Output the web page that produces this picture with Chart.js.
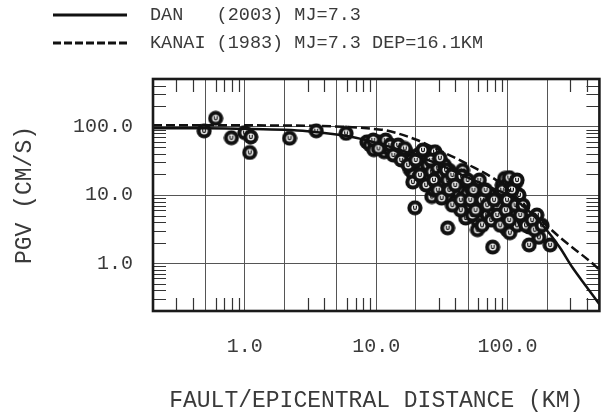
<!DOCTYPE html>
<html>
<head>
<meta charset="utf-8">
<script src="https://cdn.jsdelivr.net/npm/chart.js@4/dist/chart.umd.min.js"></script>
<style>
  body { margin: 0; background: #fff; }
  #wrap { position: relative; width: 608px; height: 415px; }
  #legend { position: absolute; left: 53px; top: 1px; font-family: 'Liberation Mono', monospace; font-size: 18.5px; color: #3a3a3a; }
  #legend .row { display: flex; align-items: center; height: 28px; white-space: pre; }
  #legend svg { margin-right: 23px; }
</style>
</head>
<body>
<div id="wrap">
  <canvas id="chart" width="608" height="415"></canvas>
  <div id="legend"></div>
</div>
<script>
// attenuation curves
const danDist = [0.2, 0.5, 1, 2, 3, 5, 7, 10, 15, 20, 30, 50, 70, 100, 150, 190, 250, 310, 400, 500]
const danPgv  = [95, 95, 93, 90, 86, 77, 69, 58, 46, 38, 28, 18, 13.5, 10, 5.5, 3.4, 1.7, 0.88, 0.45, 0.25]
const kanaiDist = [0.2, 0.5, 1, 2, 3.65, 5.5, 7.3, 10, 11.7, 20, 27, 50, 88, 148, 250, 476, 500]
const kanaiPgv  = [105, 105, 105, 104, 103, 100, 97, 92, 89, 65, 50, 28, 15, 6.0, 2.4, 0.88, 0.8]

// observed PGV records
const obsDist = [0.49, 0.60, 0.79, 1.0, 1.11, 1.09, 2.19, 3.5, 5.9,
  8.5, 9.0, 9.6, 10.4, 11.0, 11.5, 12.3, 12.8, 13.7, 14.3, 15.2, 16.0, 17.0, 17.5, 18.5, 19.0, 18.2, 19.3, 19.0, 19.7,
  20.8, 22, 23, 24, 24.7, 26.5, 28, 28, 28.5, 29.4, 26.5, 27.5, 31, 32, 33, 35, 36, 38, 39.5, 41, 42, 44, 45.4, 46,
  48, 48, 49.6, 52, 53, 55, 57, 59, 61, 63, 66, 68, 70, 73, 75, 78, 81, 83.5, 87, 91, 95, 99, 103, 106, 111, 115,
  118, 122, 104, 115, 126, 91, 99, 104, 118, 133, 146, 167, 173, 146, 211, 77, 59, 59, 48, 35, 64, 54, 44, 38,
  9.5, 10.4, 11.8, 12.8, 13.5, 14.7, 15.5, 16.5, 17.5, 20, 21.5, 22.7, 24, 26, 27.5, 29.4, 30.5, 31.5, 34, 36,
  38, 40, 44, 45, 49.6, 52, 55, 57, 61, 64, 68, 70, 75, 79, 83.5, 88, 91, 97, 99, 103, 108, 115, 118, 125, 131,
  138, 154, 161, 183]
const obsPgv = [87, 133, 69, 82, 71, 42, 68, 87, 80,
  60, 54, 46, 60, 51, 43, 54, 46, 50, 41, 46, 38.5, 42, 35, 32.6, 27.5, 23.3, 19.7, 15.5, 6.5,
  38.5, 30, 25, 35, 27.5, 22, 43, 32.6, 17.5, 25, 9.5, 11.9, 14, 19.7, 27.5, 16.6, 23, 13, 19, 8.5, 11, 15.5, 23, 12.5,
  15.5, 9.0, 10.5, 7.1, 12.5, 9.0, 14, 10, 7.1, 11, 6, 8.5, 5.1, 7.1, 10, 6, 4.3, 7.1, 10, 14, 17.5, 14, 18, 12, 8.5, 15,
  10, 10, 6.4, 5.1, 6, 4, 3.1, 2.8, 3.6, 4.3, 3.4, 5.1, 2.4, 1.86, 1.86, 1.73, 3.1, 4.3, 4.6, 3.3, 3.6, 5.1, 6, 7.1,
  64, 48, 64, 54, 38.5, 54, 32.6, 48, 27.5, 32.6, 19.7, 45.6, 14, 32.6, 16.6, 11.9, 35, 9, 23.3, 11.9,
  19.7, 14, 8.5, 19, 16.6, 8.5, 11.9, 6, 16.6, 8.5, 11.9, 7.1, 4.3, 8.5, 5.1, 3.6, 11.9, 6, 8.5, 4.3, 11.9, 7.1, 16.6, 5.1, 7.1,
  3.6, 4.3, 3.1, 3.6]

const seriesLabels = ['DAN   (2003) MJ=7.3', 'KANAI (1983) MJ=7.3 DEP=16.1KM']

// axes
const xGrid = [0.5, 1, 2, 5, 10, 20, 50, 100, 200]
const yGrid = [1, 10, 100]
const xLabelled = [1, 10, 100]
const yLabelled = [1, 10, 100]
const xMinor = [0.3, 0.4, 0.6, 0.7, 0.8, 0.9, 3, 4, 6, 7, 8, 9, 30, 40, 60, 70, 80, 90, 300, 400]
const yMinor = [0.3, 0.4, 0.5, 0.6, 0.7, 0.8, 0.9, 2, 3, 4, 5, 6, 7, 8, 9, 20, 30, 40, 50, 60, 70, 80, 90, 200, 300, 400]

const toXY = (xs, ys) => xs.map((v, i) => ({ x: v, y: ys[i] }))

// ring marker with a small "u" inside
function makeMarker() {
  const c = document.createElement('canvas')
  c.width = 16; c.height = 16
  const g = c.getContext('2d')
  g.fillStyle = '#111'
  g.beginPath(); g.arc(8, 8, 7.6, 0, Math.PI * 2); g.fill()
  g.fillStyle = '#fff'
  g.beginPath(); g.arc(8, 8, 3.5, 0, Math.PI * 2); g.fill()
  g.strokeStyle = '#111'; g.lineWidth = 1.2
  g.beginPath()
  g.moveTo(6.6, 5.8); g.lineTo(6.6, 8.3)
  g.arc(8, 8.3, 1.4, Math.PI, 0, true)
  g.lineTo(9.4, 5.8)
  g.stroke()
  return c
}

const frameTicks = {
  id: 'frameTicks',
  beforeDatasetsDraw(chart) {
    const { ctx, chartArea: a, scales: { x, y } } = chart
    ctx.save()
    ctx.strokeStyle = '#333'
    ctx.lineWidth = 1.2
    ctx.beginPath()
    xMinor.forEach(v => {
      const px = Math.round(x.getPixelForValue(v)) + 0.5
      ctx.moveTo(px, a.top); ctx.lineTo(px, a.top + 13)
      ctx.moveTo(px, a.bottom); ctx.lineTo(px, a.bottom - 13)
    })
    yMinor.forEach(v => {
      const py = Math.round(y.getPixelForValue(v)) + 0.5
      ctx.moveTo(a.left, py); ctx.lineTo(a.left + 13, py)
      ctx.moveTo(a.right, py); ctx.lineTo(a.right - 13, py)
    })
    ctx.stroke()
    ctx.restore()
  },
  afterDraw(chart) {
    const { ctx, chartArea: a } = chart
    ctx.save()
    ctx.strokeStyle = '#1a1a1a'
    ctx.lineWidth = 2.6
    ctx.strokeRect(a.left, a.top, a.right - a.left, a.bottom - a.top)
    ctx.restore()
  }
}

Chart.defaults.font.family = "'Liberation Mono', monospace"
Chart.defaults.color = '#3a3a3a'

const lineStyles = [
  { borderDash: [] },
  { borderDash: [9, 4] }
]

new Chart(document.getElementById('chart'), {
  type: 'scatter',
  data: {
    datasets: [
      { label: seriesLabels[0], data: toXY(danDist, danPgv), showLine: true, pointRadius: 0,
        borderColor: '#111', borderWidth: 2.5, cubicInterpolationMode: 'monotone', borderDash: lineStyles[0].borderDash },
      { label: seriesLabels[1], data: toXY(kanaiDist, kanaiPgv), showLine: true, pointRadius: 0,
        borderColor: '#111', borderWidth: 2.5, cubicInterpolationMode: 'monotone', borderDash: lineStyles[1].borderDash },
      { label: 'PGV', data: toXY(obsDist, obsPgv), pointStyle: makeMarker(), pointRadius: 7.6 }
    ]
  },
  options: {
    responsive: false,
    animation: false,
    events: [],
    devicePixelRatio: 1,
    layout: { padding: { top: 79, right: 5, left: 0, bottom: 0 } },
    plugins: { legend: { display: false }, tooltip: { enabled: false } },
    scales: {
      x: {
        type: 'logarithmic', min: 0.2, max: 500,
        afterBuildTicks: s => { s.ticks = xGrid.map(v => ({ value: v })) },
        afterFit: s => { s.height = 104 },
        grid: { color: '#555', lineWidth: 1, drawTicks: false },
        border: { display: false },
        ticks: {
          autoSkip: false, maxRotation: 0, padding: 24,
          font: { size: 20 },
          callback: v => xLabelled.includes(v) ? v.toFixed(1) : ''
        },
        title: { display: true, text: 'FAULT/EPICENTRAL DISTANCE (KM)', font: { size: 23 }, padding: { top: 9, bottom: 0 } }
      },
      y: {
        type: 'logarithmic', min: 0.2, max: 500,
        afterBuildTicks: s => { s.ticks = yGrid.map(v => ({ value: v })) },
        afterFit: s => { s.width = 153 },
        grid: { color: '#555', lineWidth: 1, drawTicks: false },
        border: { display: false },
        ticks: {
          autoSkip: false, padding: 20,
          font: { size: 20 },
          callback: v => yLabelled.includes(v) ? v.toFixed(1) : ''
        },
        title: { display: true, text: 'PGV (CM/S)', font: { size: 23 }, padding: { top: 11, bottom: 0 } }
      }
    }
  },
  plugins: [frameTicks]
})

// legend rows for the two curves
const legend = document.getElementById('legend')
seriesLabels.forEach((label, i) => {
  const row = document.createElement('div')
  row.className = 'row'
  const dashed = lineStyles[i].borderDash.length > 0
  row.innerHTML = '<svg width="74" height="6"><line x1="0" y1="3" x2="74" y2="3" stroke="#111" stroke-width="3"' +
    (dashed ? ' stroke-dasharray="8 3"' : '') + '/></svg>'
  const span = document.createElement('span')
  span.textContent = label
  row.appendChild(span)
  legend.appendChild(row)
})
</script>
</body>
</html>
